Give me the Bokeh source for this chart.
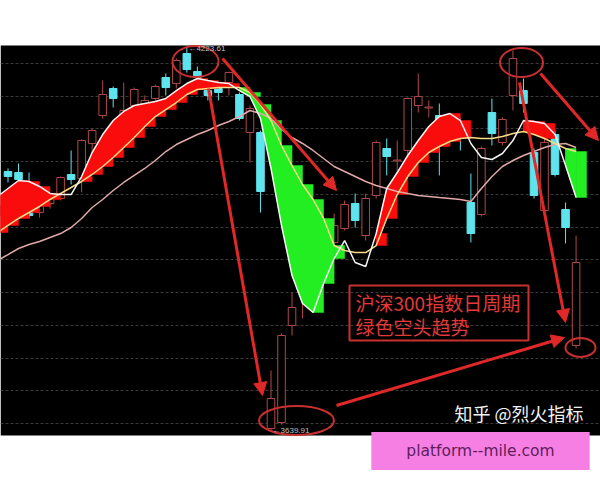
from bokeh.plotting import figure
from bokeh.models import Range1d, FixedTicker, Arrow, NormalHead, Label, BoxAnnotation, ColumnDataSource
from bokeh.embed import file_html
from bokeh.resources import INLINE

# ---------------- data: CSI 300 daily bars ----------------
bars = list(range(-1, 55))

open_ = [3967.7, 4035.0, 4033.4, 3998.3, 3972.3, 3986.1, 3993.7, 4030.4, 4024.3, 4077.8,
         4120.5, 4161.8, 4097.6, 4135.8, 4131.2, 4146.5, 4178.6, 4169.4, 4215.3, 4187.8,
         4158.7, 4161.8, 4171.0, 4152.6, 4094.6, 4094.6, 3642.3, 3651.4, 3799.7, 3853.1,
         3868.4, 3899.0, 3926.5, 3947.9, 3986.1, 3937.2, 3998.3, 4070.1, 4051.0, 4067.1,
         4135.8, 4132.0, 4120.5, 4097.6, 4109.8, 3987.6, 3969.3, 4125.1, 4079.3, 4151.1,
         4158.7, 4064.0, 3975.4, 4091.5, 3976.9, 3769.1]
high = [3990.7, 4039.6, 4047.2, 4033.4, 3998.3, 4001.4, 4027.3, 4067.1, 4083.9, 4100.7,
        4174.0, 4164.9, 4171.0, 4163.3, 4151.1, 4167.9, 4184.7, 4207.6, 4223.61, 4195.4,
        4174.0, 4172.5, 4187.8, 4155.7, 4135.8, 4097.6, 3730.9, 3787.4, 3850.1, 3876.1,
        3906.6, 3929.5, 3970.8, 3990.7, 4001.4, 4001.4, 4082.3, 4085.4, 4082.3, 4148.0,
        4184.7, 4143.5, 4138.9, 4120.5, 4116.0, 4031.9, 4073.2, 4146.5, 4117.5, 4219.9,
        4177.1, 4070.1, 4085.4, 4097.6, 3987.6, 3937.2]
low = [3960.1, 4018.2, 4013.6, 3963.2, 3964.7, 3978.4, 3990.7, 4015.1, 4002.9, 4064.0,
       4116.0, 4132.8, 4090.0, 4128.2, 4125.1, 4143.5, 4151.1, 4161.8, 4186.2, 4174.0,
       4143.5, 4143.5, 4151.1, 4112.9, 4048.7, 3972.3, 3639.91, 3648.4, 3784.4, 3810.4,
       3853.1, 3883.7, 3920.4, 3944.8, 3949.4, 3929.5, 3993.7, 4028.9, 4024.3, 4059.4,
       4125.1, 4117.5, 4028.9, 4074.7, 4067.1, 3926.5, 3966.2, 4074.7, 4074.7, 4128.2,
       4125.1, 3993.7, 3972.3, 4027.3, 3925.0, 3764.5]
close = [3983.0, 4027.3, 4022.8, 3967.7, 3983.0, 3993.7, 4025.8, 4022.8, 4082.3, 4097.6,
         4152.6, 4146.5, 4128.2, 4160.3, 4143.5, 4164.9, 4163.3, 4204.6, 4190.8, 4178.6,
         4151.1, 4155.7, 4186.2, 4116.0, 4131.2, 4004.4, 3688.1, 3784.4, 3827.2, 3868.4,
         3895.9, 3921.9, 3952.5, 3984.6, 3960.1, 3993.7, 4079.3, 4057.9, 4052.5, 4146.5,
         4149.6, 4133.5, 4100.7, 4112.9, 4093.0, 3940.2, 4070.1, 4093.0, 4114.4, 4207.6,
         4138.9, 3998.3, 4079.3, 4030.4, 3949.4, 3895.9]

# moving-average lines
ma_white = [3996.8, 4009.0, 4021.2, 4019.7, 4012.1, 4001.4, 3999.8, 3999.8, 4027.3, 4064.0,
            4091.5, 4112.9, 4126.7, 4135.8, 4138.9, 4141.9, 4146.5, 4158.7, 4169.4, 4177.1,
            4174.0, 4171.0, 4169.4, 4158.7, 4149.6, 4116.0, 4039.6, 3952.5, 3876.1, 3833.3,
            3819.5, 3863.8, 3902.0, 3929.5, 3895.9, 3889.8, 3940.2, 4009.0, 4033.4, 4059.4,
            4082.3, 4103.7, 4119.0, 4123.6, 4112.9, 4077.8, 4056.4, 4053.3, 4062.5, 4082.3,
            4112.9, 4111.4, 4108.3, 4091.5, 4044.1, 3995.2]
ma_yellow = [3941.8, 3952.5, 3963.2, 3972.3, 3981.5, 3992.2, 4001.4, 4010.5, 4019.7, 4030.4,
             4042.6, 4056.4, 4071.6, 4086.9, 4103.7, 4119.0, 4129.7, 4140.4, 4152.6, 4160.3,
             4161.8, 4163.3, 4163.3, 4163.3, 4155.7, 4137.4, 4112.9, 4074.7, 4044.1, 4015.1,
             3992.2, 3963.2, 3921.9, 3914.3, 3911.2, 3911.2, 3921.9, 3963.2, 3999.8, 4027.3,
             4048.7, 4064.0, 4073.2, 4080.8, 4085.4, 4086.9, 4085.4, 4085.4, 4088.5, 4093.0,
             4096.1, 4091.5, 4085.4, 4077.8, 4070.1, 4065.5]
ma_pink = [3899.0, 3908.1, 3917.3, 3923.4, 3928.0, 3934.1, 3940.2, 3949.4, 3963.2, 3980.0,
           3992.2, 4005.9, 4018.2, 4028.9, 4039.6, 4051.8, 4065.5, 4076.2, 4083.9, 4091.5,
           4097.6, 4105.3, 4111.4, 4119.0, 4128.2, 4123.6, 4116.0, 4099.2, 4086.9, 4077.8,
           4067.1, 4054.8, 4042.6, 4034.9, 4027.3, 4019.7, 4013.6, 4009.0, 4004.4, 4001.4,
           3998.3, 3996.8, 3995.2, 3993.7, 3992.2, 3989.1, 4009.0, 4027.3, 4042.6, 4051.8,
           4059.4, 4065.5, 4071.6, 4076.2, 4077.8, 4071.6]

# trend band state per bar: R = bull (red), G = bear (green), . = none
trend = list("RRRRRR..RRRRRRRRRRRRRRRGGGGGGGGGG...RRRRRRRRR.....RRR.GG")

grid_levels = [3650, 3700, 3750, 3800, 3850, 3900, 3950, 4000, 4050, 4100, 4150, 4200]

title_lines = ["沪深300指数日周期", "绿色空头趋势"]
watermark = "知乎 @烈火指标"
site_tag = "platform--mile.com"

# ---------------- styling ----------------
UP = "#b04848"
DOWN = "#5fe4ee"
RED_FILL = "#fa0c0c"
GREEN_FILL = "#22ee22"
ANN = "#e02828"

# reference geometry (page px) -> data
X0_PX, DX_PX = 7.5, 10.52
Y0_PX, DY = 63.0, 1.528       # 4200 sits at y=63 px, 1.528 points / px


def dx(px):
    return (px - X0_PX) / DX_PX


def dy(py):
    return 4200 - (py - Y0_PX) * DY


p = figure(width=600, height=480, output_backend="svg", toolbar_location=None,
           x_range=Range1d(dx(0), dx(600)), y_range=Range1d(dy(480), dy(0)),
           x_axis_location=None, y_axis_location=None,
           min_border_left=0, min_border_right=0, min_border_top=0, min_border_bottom=0,
           background_fill_color="white", border_fill_color="white", outline_line_color=None)

# black chart panel (page y 45..435)
p.add_layout(BoxAnnotation(top=dy(45), bottom=dy(435), fill_color="black", fill_alpha=1,
                           line_alpha=0, level="image"))

p.xgrid.visible = False
p.ygrid.ticker = FixedTicker(ticks=grid_levels)
p.ygrid.grid_line_color = "#3a3a3a"
p.ygrid.grid_line_dash = "3 2"
p.ygrid.grid_line_width = 1

# ---------------- candles ----------------
up = [c >= o for o, c in zip(open_, close)]
src = ColumnDataSource(dict(
    x=bars, high=high, low=low,
    top=[max(o, c) for o, c in zip(open_, close)],
    bottom=[min(o, c) for o, c in zip(open_, close)],
    line=[UP if u else DOWN for u in up],
    fill=["black" if u else DOWN for u in up],
))
p.segment(x0="x", y0="high", x1="x", y1="low", line_color="line", line_width=1, source=src)
p.vbar(x="x", width=0.72, top="top", bottom="bottom", fill_color="fill",
       line_color="line", line_width=1, source=src)

# ---------------- trend band (stepped blocks + smooth fill between MAs) ----------------
ql, qr, qb, qt, qc = [], [], [], [], []
for i, s in enumerate(trend):
    if s in "RG":
        col = RED_FILL if s == "R" else GREEN_FILL
        ql.append(bars[i]); qr.append(bars[i] + 1)
        qb.append(min(ma_white[i], ma_yellow[i])); qt.append(max(ma_white[i], ma_yellow[i]))
        qc.append(col)
p.quad(left=ql, right=qr, bottom=qb, top=qt, fill_color=qc, line_color=qc, line_width=0.5)

pxs, pys, pcs = [], [], []
i = 0
n = len(trend)
while i < n:
    s = trend[i]
    if s in "RG":
        j = i
        while j + 1 < n and trend[j + 1] == s:
            j += 1
        seg = range(i, j + 1)
        pxs.append([bars[k] for k in seg] + [bars[k] for k in reversed(seg)])
        pys.append([ma_white[k] for k in seg] + [ma_yellow[k] for k in reversed(seg)])
        pcs.append(RED_FILL if s == "R" else GREEN_FILL)
        i = j + 1
    else:
        i += 1
p.patches(xs=pxs, ys=pys, fill_color=pcs, line_color=pcs, line_width=0.5)

# ---------------- MA lines ----------------
p.line(bars, ma_pink, line_color="#e0a8a8", line_width=1.5)
p.line(bars, ma_yellow, line_color="#f6dc84", line_width=1.5)
p.line(bars, ma_white, line_color="#f4f4f4", line_width=1.5)

# ---------------- extreme labels ----------------
i_hi = high.index(max(high))
i_lo = low.index(min(low))
p.add_layout(Label(x=bars[i_hi] + 0.15, y=high[i_hi], text="←%.2f" % high[i_hi],
                   text_font="Liberation Sans", text_font_size="8px", text_color="#c0c0c0",
                   text_baseline="middle"))
p.add_layout(Label(x=bars[i_lo] + 0.15, y=low[i_lo], text="←%.2f" % low[i_lo],
                   text_font="Liberation Sans", text_font_size="8px", text_color="#c0c0c0",
                   text_baseline="middle"))

# ---------------- annotation decorations (positions in reference px) ----------------
ellipses_px = [(195, 61, 46, 31), (521, 62, 43, 29), (296, 420, 75, 29), (580, 347, 30, 19)]
p.ellipse(x=[dx(e[0]) for e in ellipses_px], y=[dy(e[1]) for e in ellipses_px],
          width=[e[2] for e in ellipses_px], height=[e[3] for e in ellipses_px],
          width_units="screen", height_units="screen",
          fill_color=None, line_color="#c83030", line_width=2)

arrows_px = [(222, 58, 336, 190), (208, 88, 262, 395), (540, 73, 598, 140),
             (519, 82, 565, 322), (336, 405, 564, 337)]
for (x0, y0, x1, y1) in arrows_px:
    p.add_layout(Arrow(x_start=dx(x0), y_start=dy(y0), x_end=dx(x1), y_end=dy(y1),
                       line_color=ANN, line_width=3,
                       end=NormalHead(size=13, fill_color=ANN, line_color=ANN)))

p.add_layout(BoxAnnotation(left=dx(349), right=dx(528), top=dy(285), bottom=dy(340),
                           fill_alpha=0, line_color="#c83030", line_alpha=1, line_width=2))
for txt, ypx in zip(title_lines, [302, 326]):
    p.add_layout(Label(x=dx(355), y=dy(ypx), text=txt, text_font="Noto Sans CJK SC",
                       text_font_size="19px", text_color="#e23a3a", text_baseline="middle"))

p.add_layout(Label(x=dx(583), y=dy(412), text=watermark, text_font="Noto Sans CJK SC",
                   text_font_size="18px", text_color="#f2f2f2", text_align="right",
                   text_baseline="middle"))

# site tag box on the white strip below the panel
p.add_layout(Label(x=dx(480), y=dy(450.5), text=site_tag, text_font="DejaVu Sans",
                   text_font_size="15.5px", text_color="#5e1e5c", text_align="center",
                   text_baseline="middle", background_fill_color="#f67fe3",
                   padding=(35, 10)))

open("out.html", "w").write(file_html(p, INLINE))
